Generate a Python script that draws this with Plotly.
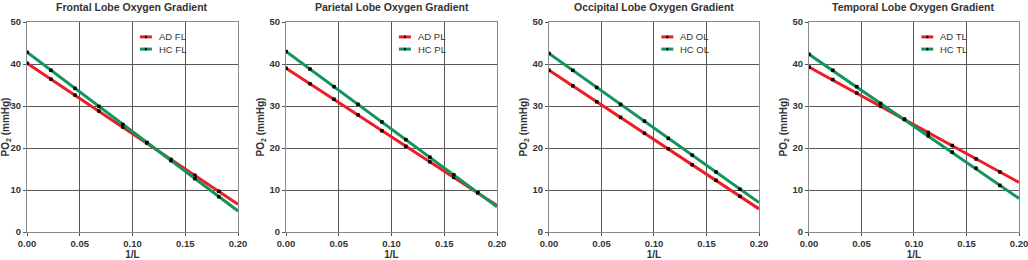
import plotly.graph_objects as go

# ---------------- data ----------------
TITLES = ["Frontal Lobe Oxygen Gradient", "Parietal Lobe Oxygen Gradient",
          "Occipital Lobe Oxygen Gradient", "Temporal Lobe Oxygen Gradient"]
AD_NAMES = ["AD FL", "AD PL", "AD OL", "AD TL"]
HC_NAMES = ["HC FL", "HC PL", "HC OL", "HC TL"]

# measurement points (1/L)
X_PTS = [0.0, 0.0227, 0.0455, 0.0682, 0.0909, 0.1136, 0.1364, 0.1591, 0.1818]
# fitted line extent (1/L)
X_LINE = [0.0, 0.2]

AD_FL = [40.2, 36.4, 32.6, 28.8, 25.0, 21.2, 17.3, 13.5, 9.7]
HC_FL = [42.8, 38.5, 34.2, 29.9, 25.6, 21.3, 17.0, 12.7, 8.4]
AD_PL = [39.0, 35.3, 31.6, 27.9, 24.1, 20.4, 16.7, 13.0, 9.3]
HC_PL = [43.0, 38.8, 34.6, 30.4, 26.2, 22.0, 17.8, 13.6, 9.4]
AD_OL = [38.5, 34.8, 31.0, 27.3, 23.5, 19.8, 16.0, 12.3, 8.5]
HC_OL = [42.5, 38.5, 34.4, 30.4, 26.4, 22.3, 18.3, 14.3, 10.2]
AD_TL = [39.3, 36.3, 33.1, 30.0, 26.9, 23.7, 20.6, 17.4, 14.3]
HC_TL = [42.3, 38.5, 34.6, 30.6, 26.8, 22.9, 19.0, 15.2, 11.1]

AD_LINE_FL = [40.2, 6.6]
HC_LINE_FL = [42.8, 5.0]
AD_LINE_PL = [39.0, 6.3]
HC_LINE_PL = [43.0, 6.0]
AD_LINE_OL = [38.5, 5.5]
HC_LINE_OL = [42.5, 7.0]
AD_LINE_TL = [39.3, 11.8]
HC_LINE_TL = [42.3, 8.0]

AD_PTS = [AD_FL, AD_PL, AD_OL, AD_TL]
HC_PTS = [HC_FL, HC_PL, HC_OL, HC_TL]
AD_LINES = [AD_LINE_FL, AD_LINE_PL, AD_LINE_OL, AD_LINE_TL]
HC_LINES = [HC_LINE_FL, HC_LINE_PL, HC_LINE_OL, HC_LINE_TL]

X_TICKS = [0.0, 0.05, 0.10, 0.15, 0.20]
X_TICKTEXT = ["0.00", "0.05", "0.10", "0.15", "0.20"]
Y_TICKS = [0, 10, 20, 30, 40, 50]
Y_TICKTEXT = ["0", "10", "20", "30", "40", "50"]

# ---------------- style ----------------
RED = "#ee1c25"
GREEN = "#12955a"
FONT = "Liberation Sans, Arial, sans-serif"
DOMAINS = [(0.0, 0.2127), (0.2611, 0.4738), (0.5262, 0.7379), (0.7883, 1.0)]

fig = go.Figure()
annotations = []
shapes = []

for i in range(4):
    xa = "x" if i == 0 else f"x{i+1}"
    ya = "y" if i == 0 else f"y{i+1}"
    for line_vals, pts, col in ((AD_LINES[i], AD_PTS[i], RED), (HC_LINES[i], HC_PTS[i], GREEN)):
        fig.add_trace(go.Scatter(x=X_LINE, y=line_vals, mode="lines",
                                 line=dict(color=col, width=3),
                                 xaxis=xa, yaxis=ya, showlegend=False, hoverinfo="skip"))
        fig.add_trace(go.Scatter(x=X_PTS, y=pts, mode="markers",
                                 marker=dict(color="black", size=3.5, symbol="square"),
                                 xaxis=xa, yaxis=ya, showlegend=False))

    axis_common = dict(showline=True, linecolor="#8a8a8a", linewidth=1, mirror=True,
                       showgrid=True, gridcolor="#555555", gridwidth=1,
                       zeroline=False, ticks="outside", ticklen=3, tickcolor="#555",
                       ticklabeloverflow="allow",
                       tickfont=dict(family=FONT, size=9.5, color="#333"))
    fig.layout[f"xaxis{'' if i == 0 else i+1}"] = dict(
        domain=list(DOMAINS[i]), anchor=ya, range=[0, 0.2],
        tickvals=X_TICKS, ticktext=[f"<b>{t}</b>" for t in X_TICKTEXT],
        title=dict(text="<b>1/L</b>", font=dict(family=FONT, size=10, color="#333"), standoff=3),
        **axis_common)
    fig.layout[f"yaxis{'' if i == 0 else i+1}"] = dict(
        domain=[0, 1], anchor=xa, range=[0, 50], tickvals=Y_TICKS,
        ticktext=[f"<b>{t}</b>" for t in Y_TICKTEXT],
        title=dict(text="<b>PO<sub>2</sub> (mmHg)</b>", font=dict(family=FONT, size=10, color="#333"), standoff=3),
        **axis_common)

    # title
    annotations.append(dict(text=f"<b>{TITLES[i]}</b>", xref=f"{xa} domain", yref="paper",
                            x=0.5, y=1.0, yanchor="middle", yshift=15, showarrow=False,
                            font=dict(family=FONT, size=10.5, color="#333")))
    # legend (manual)
    for j, (nm, col, yy) in enumerate(((AD_NAMES[i], RED, 0.929), (HC_NAMES[i], GREEN, 0.871))):
        shapes.append(dict(type="line", xref=f"{xa} domain", yref=f"{ya} domain",
                           x0=0.535, x1=0.592, y0=yy, y1=yy,
                           line=dict(color=col, width=3)))
        shapes.append(dict(type="rect", xref=f"{xa} domain", yref=f"{ya} domain",
                           x0=0.559, x1=0.568, y0=yy - 0.006, y1=yy + 0.006,
                           fillcolor="black", line=dict(width=0)))
        annotations.append(dict(text=nm, xref=f"{xa} domain", yref=f"{ya} domain",
                                x=0.615, y=yy, xanchor="left", yanchor="middle",
                                showarrow=False,
                                font=dict(family=FONT, size=9.5, color="#333")))

fig.update_layout(width=1028, height=260,
                  margin=dict(l=27, r=9, t=22, b=28, autoexpand=False),
                  paper_bgcolor="white", plot_bgcolor="white",
                  showlegend=False, annotations=annotations, shapes=shapes)

fig.write_html("out.html", config={"displayModeBar": False},
               post_script="document.body.style.margin='0px';document.body.style.overflow='hidden';")
